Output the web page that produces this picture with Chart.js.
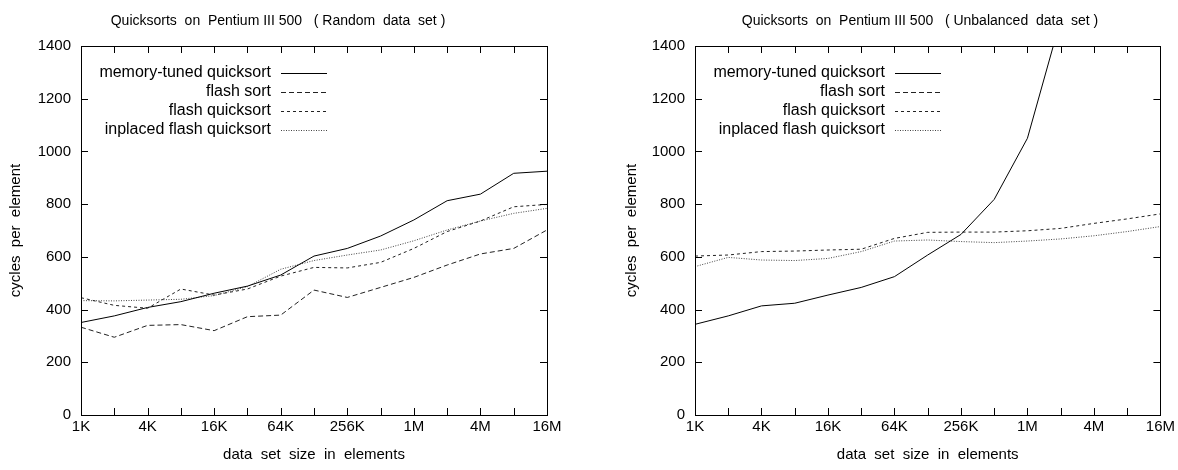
<!DOCTYPE html>
<html>
<head>
<meta charset="utf-8">
<script src="https://cdn.jsdelivr.net/npm/chart.js@4/dist/chart.umd.min.js"></script>
<style>
  body { margin: 0; background: #fff; }
  #wrap { position: relative; width: 1178px; height: 470px; }
  canvas { position: absolute; top: 0; }
  #left-chart { left: 0; }
  #right-chart { left: 589px; }
</style>
</head>
<body>
<div id="wrap">
  <canvas id="left-chart" width="589" height="470"></canvas>
  <canvas id="right-chart" width="589" height="470"></canvas>
</div>
<script>
// ------------------------------ Data ------------------------------ //

// data set sizes, one point per power of two
const sizes = ['1K', '2K', '4K', '8K', '16K', '32K', '64K', '128K', '256K',
  '512K', '1M', '2M', '4M', '8M', '16M'];
const yTicks = [0, 200, 400, 600, 800, 1000, 1200, 1400];

const seriesNames = ['memory-tuned quicksort', 'flash sort', 'flash quicksort',
  'inplaced flash quicksort'];

// Random data set (left)
const randomMemTuned = [351, 376, 408, 430, 462, 489, 531, 603, 632, 679, 740, 813, 838, 917, 925];
const randomFlashSort = [333, 295, 340, 343, 320, 373, 379, 474, 446, 484, 522, 569, 611, 632, 702];
const randomFlashQuick = [445, 416, 405, 478, 455, 478, 527, 560, 558, 579, 632, 696, 736, 790, 799];
const randomInplaced = [434, 433, 436, 439, 453, 487, 553, 586, 607, 626, 661, 702, 736, 765, 784];

// Unbalanced data set (right) - flash sort is off the chart
const unbalMemTuned = [344, 376, 414, 424, 455, 484, 525, 607, 685, 818, 1050, 1500, null, null, null];
const unbalFlashSort = [null, null, null, null, null, null, null, null, null, null, null, null, null, null, null];
const unbalFlashQuick = [603, 607, 620, 622, 626, 629, 670, 693, 694, 694, 699, 708, 727, 744, 763];
const unbalInplaced = [563, 598, 588, 586, 594, 620, 660, 664, 658, 654, 660, 668, 680, 696, 715];

// ------------------------------ Styles ------------------------------ //

const FONT = 'Liberation Sans, Arial, Helvetica, sans-serif';
const lineStyles = [
  { color: '#000', dash: [] },
  { color: '#222', dash: [5, 3] },
  { color: '#222', dash: [3, 3] },
  { color: '#444', dash: [1, 1.5] }
];

// gnuplot-like frame, inward ticks, title and legend
const gnuplotLook = {
  id: 'gnuplotLook',
  afterDraw(chart, args, opts) {
    const ctx = chart.ctx;
    const area = chart.chartArea;
    const xScale = chart.scales.x;
    const yScale = chart.scales.y;
    const tl = 7;

    ctx.save();
    ctx.strokeStyle = '#000';
    ctx.lineWidth = 1;
    ctx.setLineDash([]);
    ctx.strokeRect(Math.round(area.left) + 0.5, Math.round(area.top) + 0.5,
      Math.round(area.right - area.left), Math.round(area.bottom - area.top));

    ctx.beginPath();
    for (let i = 0; i < sizes.length; i++) {
      const x = Math.round(xScale.getPixelForValue(i)) + 0.5;
      ctx.moveTo(x, area.bottom); ctx.lineTo(x, area.bottom - tl);
      ctx.moveTo(x, area.top); ctx.lineTo(x, area.top + tl);
    }
    yTicks.forEach(v => {
      const y = Math.round(yScale.getPixelForValue(v)) + 0.5;
      ctx.moveTo(area.left, y); ctx.lineTo(area.left + tl, y);
      ctx.moveTo(area.right, y); ctx.lineTo(area.right - tl, y);
    });
    ctx.stroke();

    // title
    ctx.fillStyle = '#000';
    ctx.font = '14px ' + FONT;
    ctx.textAlign = 'center';
    ctx.textBaseline = 'middle';
    ctx.fillText(opts.title, opts.titleX, 21);

    // legend, text right aligned with the sample on its right
    ctx.font = '16px ' + FONT;
    ctx.textAlign = 'right';
    chart.data.datasets.forEach((ds, i) => {
      const y = area.top + 27 + i * 19;
      ctx.fillText(ds.label, area.left + 190, y);
      ctx.beginPath();
      ctx.strokeStyle = ds.borderColor;
      ctx.setLineDash(ds.borderDash);
      ctx.moveTo(area.left + 200, Math.round(y) + 0.5);
      ctx.lineTo(area.left + 246, Math.round(y) + 0.5);
      ctx.stroke();
    });
    ctx.restore();
  }
};

const makeChart = (canvasId, seriesData, title, titleX, padLeft, yAxisWidth, padRight) => {
  const canvas = document.getElementById(canvasId);
  return new Chart(canvas, {
    type: 'line',
    data: {
      labels: sizes,
      datasets: seriesData.map((d, i) => ({
        label: seriesNames[i],
        data: d,
        borderColor: lineStyles[i].color,
        borderDash: lineStyles[i].dash,
        borderWidth: 1,
        pointRadius: 0,
        tension: 0,
        fill: false
      }))
    },
    options: {
      responsive: false,
      animation: false,
      devicePixelRatio: 1,
      layout: { padding: { left: padLeft, top: 46, right: padRight, bottom: 0 } },
      scales: {
        x: {
          type: 'category',
          offset: false,
          grid: { display: false, drawTicks: false },
          border: { display: false },
          ticks: {
            autoSkip: false,
            maxRotation: 0,
            padding: 3,
            color: '#000',
            font: { family: FONT, size: 15 },
            callback: (val, idx) => (idx % 2 === 0 ? sizes[idx] : '')
          },
          title: {
            display: true,
            text: 'data  set  size  in  elements',
            color: '#000',
            font: { family: FONT, size: 15 },
            padding: { top: 0, bottom: 6 }
          },
          afterFit: scale => { scale.height = 55; }
        },
        y: {
          min: 0,
          max: 1400,
          grid: { display: false, drawTicks: false },
          border: { display: false },
          afterBuildTicks: scale => { scale.ticks = yTicks.map(v => ({ value: v })); },
          ticks: {
            padding: 10,
            color: '#000',
            font: { family: FONT, size: 15 },
            callback: v => String(v)
          },
          title: {
            display: true,
            text: 'cycles  per  element',
            color: '#000',
            font: { family: FONT, size: 15 },
            padding: { top: 7, bottom: 0 }
          },
          afterFit: scale => { scale.width = yAxisWidth; }
        }
      },
      plugins: {
        legend: { display: false },
        tooltip: { enabled: false },
        gnuplotLook: { title: title, titleX: titleX }
      }
    },
    plugins: [gnuplotLook]
  });
};

const leftChart = makeChart('left-chart',
  [randomMemTuned, randomFlashSort, randomFlashQuick, randomInplaced],
  'Quicksorts  on  Pentium III 500   ( Random  data  set )', 278, 0, 81, 42);

const rightChart = makeChart('right-chart',
  [unbalMemTuned, unbalFlashSort, unbalFlashQuick, unbalInplaced],
  'Quicksorts  on  Pentium III 500   ( Unbalanced  data  set )', 331, 27, 79, 16);
</script>
</body>
</html>
